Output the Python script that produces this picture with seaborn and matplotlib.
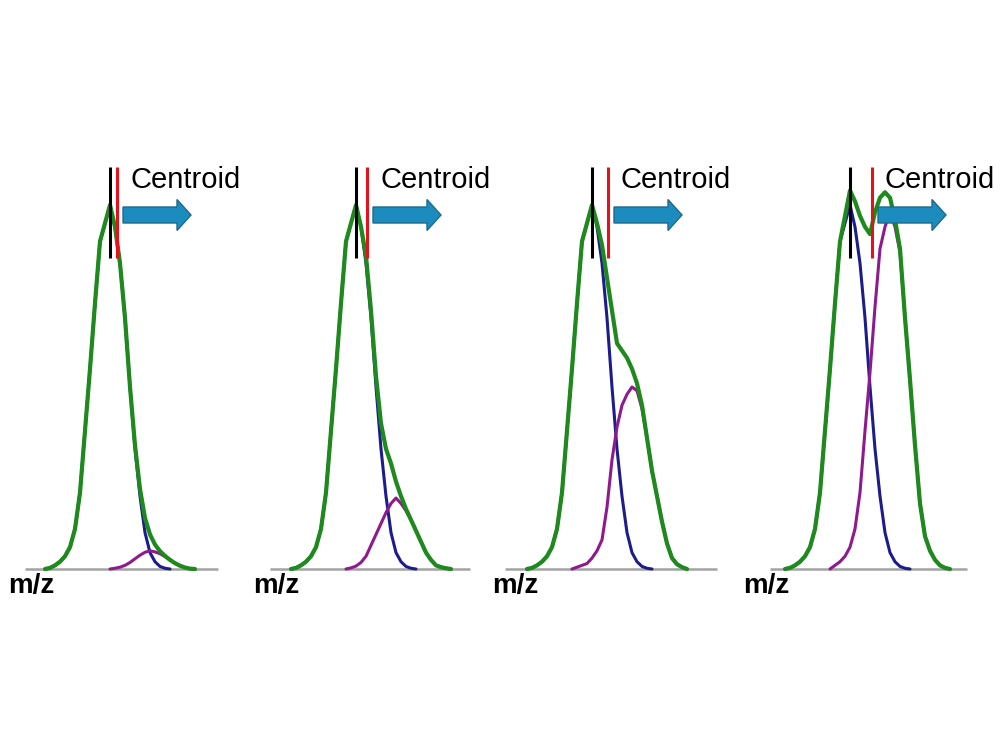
import numpy as np
import pandas as pd
import matplotlib.pyplot as plt
from matplotlib.patches import FancyArrow
import seaborn as sns

# ------------------------------------------------------------------
# data: intensities (% of main peak) sampled on an m/z grid, 1 step per sample
# ------------------------------------------------------------------
apex_mz = 13          # apex of the main peak (black line)

# main component (blue), same in all panels, first sample at mz 0
main_peak = [0, 0.3, 1, 2, 3.5, 6, 11, 21, 38, 55, 73, 90, 95, 100,
             94, 84, 69, 50, 33, 20, 10, 4.5, 2, 0.7, 0.2, 0]

# minor component (purple) for each panel, with the mz of its first sample
minor_start = [13, 11, 9, 9]
minor_1 = [0, 0.2, 0.5, 1, 1.8, 2.8, 3.8, 4.6, 5, 4.7, 4.2, 3.4, 2.5,
           1.6, 0.9, 0.4, 0.1, 0]
minor_2 = [0, 0.3, 0.8, 1.8, 3.5, 6.5, 9.5, 12.5, 15.5, 18, 19.5, 18, 16,
           13.5, 10.5, 7.5, 4.5, 2.5, 1, 0.5, 0.2, 0]
minor_3 = [0, 0.5, 1, 1.5, 3, 5, 8, 17, 30, 39, 45, 48, 50, 49, 44, 36,
           27, 20, 13, 7, 3, 1.3, 0.5, 0]
minor_4 = [0, 1, 2, 3.5, 6, 11, 21, 38, 54, 72, 88, 94, 98, 94, 87, 69,
           52, 34, 18, 9, 5, 2.5, 1, 0.3, 0]

# measured signal (green), first sample at mz 0
total_1 = [0, 0.3, 1, 2, 3.5, 6, 11, 21, 38, 55, 73, 90, 95, 100, 94, 84,
           69, 50, 34, 22, 14, 9.5, 6.7, 4.9, 3.6, 2.5, 1.6, 0.9, 0.4, 0.1, 0]
total_2 = [0, 0.3, 1, 2, 3.5, 6, 11, 21, 38, 55, 73, 90, 95, 100, 94, 86,
           71, 53, 40, 33, 29, 24, 20, 16.5, 13.5, 10.5, 7.5, 4.5, 2.5, 1,
           0.5, 0.2, 0]
total_3 = [0, 0.3, 1, 2, 3.5, 6, 11, 21, 38, 55, 73, 90, 95, 100, 95, 89,
           80, 71, 62, 60, 58, 55, 51, 45, 36, 27, 20, 13, 7, 3, 1.3, 0.5, 0]
total_4 = [0, 0.3, 1, 2, 3.5, 6, 11, 21, 38, 55, 73, 90, 97, 104, 101, 97,
           94, 92, 98, 102, 103.5, 102, 96, 88, 69, 52, 34, 18, 9, 5, 2.5,
           1, 0.3, 0]

centroid_mz = [14.4, 15.2, 16.2, 17.4]
baseline_from = [-4, -4.2, -4.4, -3]
baseline_to = [34.6, 35.8, 38, 36.4]

minors = [minor_1, minor_2, minor_3, minor_4]
totals = [total_1, total_2, total_3, total_4]

# ------------------------------------------------------------------
# layout (pixels of a 1000x750 canvas)
# ------------------------------------------------------------------
black_px = [110, 356, 592, 850]
mz_label_x = [-7.4, -7.6, -7.0, -8.4]
px_step = 5.0        # pixels per mz step
px_pct = 3.64        # pixels per % intensity
base_px = 569
top_px, bot_px = 150, 620
xlo, xhi = -6, 40

colors = {"main": "#1c1c8a", "minor": "#8e1a8e", "sum": "#1e8a1e"}
widths = {"main": 2.2, "minor": 2.2, "sum": 3.0}

sns.set_style("white")
plt.rcParams["font.family"] = ["Liberation Sans", "DejaVu Sans"]

fig = plt.figure(figsize=(10, 7.5), dpi=100)

for k in range(4):
    left = black_px[k] - (apex_mz - xlo) * px_step
    ax = fig.add_axes([left / 1000, 1 - bot_px / 750,
                       (xhi - xlo) * px_step / 1000, (bot_px - top_px) / 750])

    rows = []
    for i, v in enumerate(main_peak):
        rows.append(("main", i, v))
    for i, v in enumerate(minors[k]):
        rows.append(("minor", minor_start[k] + i, v))
    for i, v in enumerate(totals[k]):
        rows.append(("sum", i, v))
    df = pd.DataFrame(rows, columns=["component", "mz", "intensity"])

    ax.hlines(0, baseline_from[k], baseline_to[k], color="#a3a3a3", lw=1.8, zorder=1)
    sns.lineplot(data=df, x="mz", y="intensity", hue="component",
                 size="component", hue_order=["main", "minor", "sum"],
                 palette=colors, sizes=widths, estimator=None, sort=False,
                 legend=False, ax=ax, zorder=2)

    ytop = (base_px - 167) / px_pct
    ybot = (base_px - 258) / px_pct
    ax.vlines(apex_mz, ybot, ytop, color="black", lw=2.2, zorder=3)
    ax.vlines(centroid_mz[k], ybot, ytop, color="#e5121c", lw=2.2, zorder=3)

    # arrow pointing to higher m/z
    ay = (base_px - 215) / px_pct
    arrow = FancyArrow(centroid_mz[k] + 1.2, ay, 13.6, 0, width=16 / px_pct,
                       head_width=31 / px_pct, head_length=2.8,
                       length_includes_head=True, facecolor="#1b8cbd",
                       edgecolor="#1d6a8c", lw=1.0, zorder=4)
    ax.add_patch(arrow)

    ax.text(centroid_mz[k] + 2.6, (base_px - 188) / px_pct, "Centroid",
            fontsize=21, ha="left", va="baseline", color="black")
    ax.text(mz_label_x[k], (base_px - 593) / px_pct, "m/z", fontsize=20,
            fontweight="bold", ha="left", va="baseline", color="black")

    ax.set_xlim(xlo, xhi)
    ax.set_ylim(-(bot_px - base_px) / px_pct, (base_px - top_px) / px_pct)
    ax.set_axis_off()

fig.savefig("out.png", dpi=100)
